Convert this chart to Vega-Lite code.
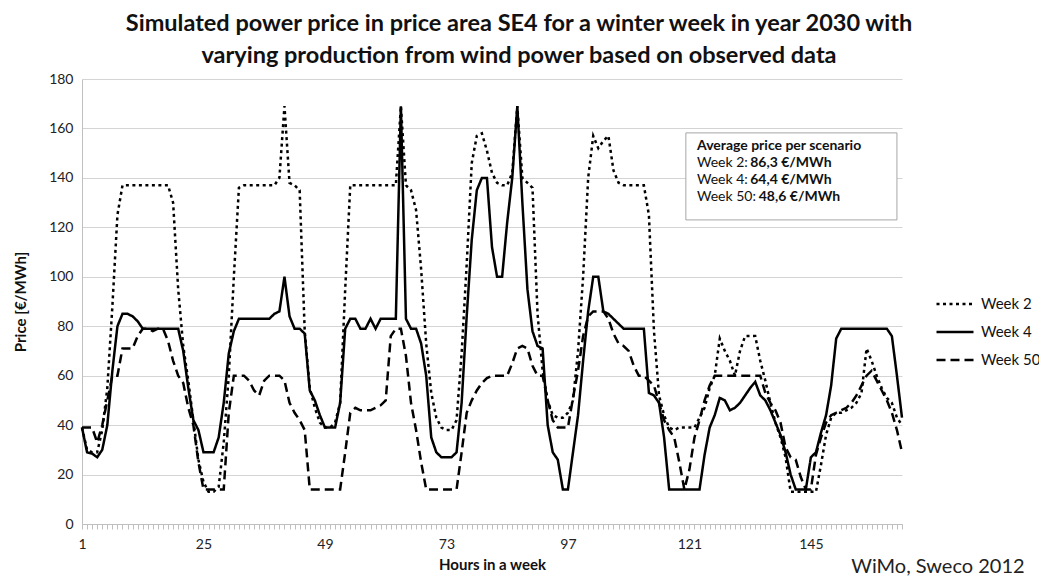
{
  "$schema": "https://vega.github.io/schema/vega-lite/v6.json",
  "width": 820,
  "height": 445,
  "autosize": {"type": "none"},
  "padding": {"left": 82, "top": 79, "right": 137, "bottom": 55},
  "background": "white",
  "config": {
    "font": "Lato",
    "view": {"stroke": null},
    "axis": {"domainColor": "#bfbfbf", "tickColor": "#bfbfbf", "labelColor": "#222222", "titleColor": "#111111", "labelFont": "Lato", "titleFont": "Lato", "labelFontSize": 14, "titleFontSize": 15, "titleFontWeight": "bold", "gridColor": "#d4d4d4"}
  },
  "title": {
    "text": ["Simulated power price in price area SE4 for a winter week in year 2030 with", "varying production from wind power based on observed data"],
    "font": "Lato", "fontSize": 23.5, "fontWeight": "bold", "color": "#111111",
    "anchor": "middle", "frame": "group", "dx": 27, "offset": 5, "lineHeight": 32
  },
  "datasets": {
    "prices": [
      {"h":1,"Week 2":39,"Week 4":39,"Week 50":39},
      {"h":2,"Week 2":30,"Week 4":29,"Week 50":39},
      {"h":3,"Week 2":29,"Week 4":28.5,"Week 50":39},
      {"h":4,"Week 2":29,"Week 4":27,"Week 50":33},
      {"h":5,"Week 2":38,"Week 4":30,"Week 50":40},
      {"h":6,"Week 2":55,"Week 4":40,"Week 50":50},
      {"h":7,"Week 2":88,"Week 4":62,"Week 50":60},
      {"h":8,"Week 2":125,"Week 4":80,"Week 50":60},
      {"h":9,"Week 2":137,"Week 4":85,"Week 50":71},
      {"h":10,"Week 2":137,"Week 4":85,"Week 50":71},
      {"h":11,"Week 2":137,"Week 4":84,"Week 50":71},
      {"h":12,"Week 2":137,"Week 4":82,"Week 50":76},
      {"h":13,"Week 2":137,"Week 4":79,"Week 50":79},
      {"h":14,"Week 2":137,"Week 4":79,"Week 50":79},
      {"h":15,"Week 2":137,"Week 4":79,"Week 50":78},
      {"h":16,"Week 2":137,"Week 4":79,"Week 50":79},
      {"h":17,"Week 2":137,"Week 4":79,"Week 50":79},
      {"h":18,"Week 2":137,"Week 4":79,"Week 50":74},
      {"h":19,"Week 2":130,"Week 4":79,"Week 50":66},
      {"h":20,"Week 2":95,"Week 4":79,"Week 50":60},
      {"h":21,"Week 2":72,"Week 4":70,"Week 50":57},
      {"h":22,"Week 2":58,"Week 4":55,"Week 50":47},
      {"h":23,"Week 2":42,"Week 4":42,"Week 50":40},
      {"h":24,"Week 2":26,"Week 4":38,"Week 50":25},
      {"h":25,"Week 2":17,"Week 4":29,"Week 50":14},
      {"h":26,"Week 2":13,"Week 4":29,"Week 50":14},
      {"h":27,"Week 2":13,"Week 4":29,"Week 50":14},
      {"h":28,"Week 2":15,"Week 4":35,"Week 50":14},
      {"h":29,"Week 2":33,"Week 4":49,"Week 50":14},
      {"h":30,"Week 2":60,"Week 4":69,"Week 50":45},
      {"h":31,"Week 2":100,"Week 4":78,"Week 50":60},
      {"h":32,"Week 2":136,"Week 4":83,"Week 50":60},
      {"h":33,"Week 2":137,"Week 4":83,"Week 50":60},
      {"h":34,"Week 2":137,"Week 4":83,"Week 50":58},
      {"h":35,"Week 2":137,"Week 4":83,"Week 50":54},
      {"h":36,"Week 2":137,"Week 4":83,"Week 50":52},
      {"h":37,"Week 2":137,"Week 4":83,"Week 50":58},
      {"h":38,"Week 2":137,"Week 4":83,"Week 50":60},
      {"h":39,"Week 2":137,"Week 4":85,"Week 50":60},
      {"h":40,"Week 2":140,"Week 4":86,"Week 50":60},
      {"h":41,"Week 2":169,"Week 4":100,"Week 50":58},
      {"h":42,"Week 2":138,"Week 4":84,"Week 50":49},
      {"h":43,"Week 2":137,"Week 4":79,"Week 50":45},
      {"h":44,"Week 2":135,"Week 4":79,"Week 50":42},
      {"h":45,"Week 2":78,"Week 4":77,"Week 50":38},
      {"h":46,"Week 2":55,"Week 4":54,"Week 50":14},
      {"h":47,"Week 2":47,"Week 4":50,"Week 50":14},
      {"h":48,"Week 2":41,"Week 4":44,"Week 50":14},
      {"h":49,"Week 2":39,"Week 4":39,"Week 50":14},
      {"h":50,"Week 2":39,"Week 4":39,"Week 50":14},
      {"h":51,"Week 2":41,"Week 4":39,"Week 50":14},
      {"h":52,"Week 2":49,"Week 4":49,"Week 50":14},
      {"h":53,"Week 2":95,"Week 4":79,"Week 50":29},
      {"h":54,"Week 2":137,"Week 4":83,"Week 50":45},
      {"h":55,"Week 2":137,"Week 4":83,"Week 50":47},
      {"h":56,"Week 2":137,"Week 4":79,"Week 50":46},
      {"h":57,"Week 2":137,"Week 4":79,"Week 50":46},
      {"h":58,"Week 2":137,"Week 4":83,"Week 50":46},
      {"h":59,"Week 2":137,"Week 4":79,"Week 50":47},
      {"h":60,"Week 2":137,"Week 4":83,"Week 50":48},
      {"h":61,"Week 2":137,"Week 4":83,"Week 50":50},
      {"h":62,"Week 2":137,"Week 4":83,"Week 50":76},
      {"h":63,"Week 2":137,"Week 4":83,"Week 50":79},
      {"h":64,"Week 2":169,"Week 4":169,"Week 50":79},
      {"h":65,"Week 2":137,"Week 4":83,"Week 50":68},
      {"h":66,"Week 2":135,"Week 4":79,"Week 50":49},
      {"h":67,"Week 2":127,"Week 4":79,"Week 50":38},
      {"h":68,"Week 2":103,"Week 4":73,"Week 50":25},
      {"h":69,"Week 2":73,"Week 4":60,"Week 50":14},
      {"h":70,"Week 2":53,"Week 4":35,"Week 50":14},
      {"h":71,"Week 2":43,"Week 4":29,"Week 50":14},
      {"h":72,"Week 2":39,"Week 4":27,"Week 50":14},
      {"h":73,"Week 2":38,"Week 4":27,"Week 50":14},
      {"h":74,"Week 2":38,"Week 4":27,"Week 50":14},
      {"h":75,"Week 2":42,"Week 4":29,"Week 50":14},
      {"h":76,"Week 2":69,"Week 4":49,"Week 50":29},
      {"h":77,"Week 2":105,"Week 4":84,"Week 50":45},
      {"h":78,"Week 2":146,"Week 4":115,"Week 50":50},
      {"h":79,"Week 2":157,"Week 4":135,"Week 50":54},
      {"h":80,"Week 2":158,"Week 4":140,"Week 50":57},
      {"h":81,"Week 2":151,"Week 4":140,"Week 50":59},
      {"h":82,"Week 2":142,"Week 4":112,"Week 50":60},
      {"h":83,"Week 2":138,"Week 4":100,"Week 50":60},
      {"h":84,"Week 2":137,"Week 4":100,"Week 50":60},
      {"h":85,"Week 2":137,"Week 4":122,"Week 50":60},
      {"h":86,"Week 2":142,"Week 4":140,"Week 50":65},
      {"h":87,"Week 2":169,"Week 4":169,"Week 50":71},
      {"h":88,"Week 2":140,"Week 4":130,"Week 50":72},
      {"h":89,"Week 2":138,"Week 4":95,"Week 50":71},
      {"h":90,"Week 2":136,"Week 4":78,"Week 50":64},
      {"h":91,"Week 2":85,"Week 4":72,"Week 50":60},
      {"h":92,"Week 2":62,"Week 4":71,"Week 50":60},
      {"h":93,"Week 2":50,"Week 4":40,"Week 50":50},
      {"h":94,"Week 2":44,"Week 4":29,"Week 50":42},
      {"h":95,"Week 2":43,"Week 4":26,"Week 50":39},
      {"h":96,"Week 2":43,"Week 4":14,"Week 50":39},
      {"h":97,"Week 2":45,"Week 4":14,"Week 50":39},
      {"h":98,"Week 2":50,"Week 4":29,"Week 50":51},
      {"h":99,"Week 2":70,"Week 4":44,"Week 50":62},
      {"h":100,"Week 2":100,"Week 4":66,"Week 50":76},
      {"h":101,"Week 2":140,"Week 4":86,"Week 50":84},
      {"h":102,"Week 2":157,"Week 4":100,"Week 50":86},
      {"h":103,"Week 2":152,"Week 4":100,"Week 50":86},
      {"h":104,"Week 2":155,"Week 4":86,"Week 50":86},
      {"h":105,"Week 2":157,"Week 4":85,"Week 50":83},
      {"h":106,"Week 2":143,"Week 4":83,"Week 50":77},
      {"h":107,"Week 2":138,"Week 4":81,"Week 50":73},
      {"h":108,"Week 2":137,"Week 4":79,"Week 50":72},
      {"h":109,"Week 2":137,"Week 4":79,"Week 50":70},
      {"h":110,"Week 2":137,"Week 4":79,"Week 50":64},
      {"h":111,"Week 2":137,"Week 4":79,"Week 50":60},
      {"h":112,"Week 2":137,"Week 4":79,"Week 50":60},
      {"h":113,"Week 2":125,"Week 4":53,"Week 50":58},
      {"h":114,"Week 2":78,"Week 4":52,"Week 50":56},
      {"h":115,"Week 2":52,"Week 4":49,"Week 50":49},
      {"h":116,"Week 2":44,"Week 4":35,"Week 50":42},
      {"h":117,"Week 2":39,"Week 4":14,"Week 50":38},
      {"h":118,"Week 2":38,"Week 4":14,"Week 50":35},
      {"h":119,"Week 2":39,"Week 4":14,"Week 50":25},
      {"h":120,"Week 2":39,"Week 4":14,"Week 50":14},
      {"h":121,"Week 2":39,"Week 4":14,"Week 50":22},
      {"h":122,"Week 2":39,"Week 4":14,"Week 50":35},
      {"h":123,"Week 2":43,"Week 4":14,"Week 50":42},
      {"h":124,"Week 2":47,"Week 4":28,"Week 50":50},
      {"h":125,"Week 2":55,"Week 4":39,"Week 50":56},
      {"h":126,"Week 2":60,"Week 4":44,"Week 50":60},
      {"h":127,"Week 2":75,"Week 4":51,"Week 50":60},
      {"h":128,"Week 2":70,"Week 4":50,"Week 50":60},
      {"h":129,"Week 2":66,"Week 4":46,"Week 50":60},
      {"h":130,"Week 2":60,"Week 4":47,"Week 50":60},
      {"h":131,"Week 2":70,"Week 4":49,"Week 50":60},
      {"h":132,"Week 2":76,"Week 4":52,"Week 50":60},
      {"h":133,"Week 2":76,"Week 4":55,"Week 50":60},
      {"h":134,"Week 2":76,"Week 4":57.5,"Week 50":60},
      {"h":135,"Week 2":66,"Week 4":52,"Week 50":60},
      {"h":136,"Week 2":58,"Week 4":50,"Week 50":53},
      {"h":137,"Week 2":49,"Week 4":46,"Week 50":49},
      {"h":138,"Week 2":41,"Week 4":41,"Week 50":46},
      {"h":139,"Week 2":35,"Week 4":36,"Week 50":41},
      {"h":140,"Week 2":27,"Week 4":29,"Week 50":31},
      {"h":141,"Week 2":13,"Week 4":20,"Week 50":27},
      {"h":142,"Week 2":13,"Week 4":14,"Week 50":26},
      {"h":143,"Week 2":13,"Week 4":14,"Week 50":19},
      {"h":144,"Week 2":13,"Week 4":14,"Week 50":14},
      {"h":145,"Week 2":13,"Week 4":27,"Week 50":14},
      {"h":146,"Week 2":13,"Week 4":29,"Week 50":28},
      {"h":147,"Week 2":24,"Week 4":37,"Week 50":35},
      {"h":148,"Week 2":36,"Week 4":44,"Week 50":41},
      {"h":149,"Week 2":43,"Week 4":56,"Week 50":44},
      {"h":150,"Week 2":45,"Week 4":75,"Week 50":45},
      {"h":151,"Week 2":45,"Week 4":79,"Week 50":46},
      {"h":152,"Week 2":46,"Week 4":79,"Week 50":47},
      {"h":153,"Week 2":47,"Week 4":79,"Week 50":49},
      {"h":154,"Week 2":49,"Week 4":79,"Week 50":52},
      {"h":155,"Week 2":53,"Week 4":79,"Week 50":56},
      {"h":156,"Week 2":71,"Week 4":79,"Week 50":60},
      {"h":157,"Week 2":66,"Week 4":79,"Week 50":62},
      {"h":158,"Week 2":60,"Week 4":79,"Week 50":58},
      {"h":159,"Week 2":55,"Week 4":79,"Week 50":54},
      {"h":160,"Week 2":51,"Week 4":79,"Week 50":50},
      {"h":161,"Week 2":49,"Week 4":76,"Week 50":45},
      {"h":162,"Week 2":43,"Week 4":60,"Week 50":38},
      {"h":163,"Week 2":40,"Week 4":43,"Week 50":29}
    ],
    "box": [{"x1": 120.3, "x2": 162, "y1": 123.0, "y2": 158.2}],
    "notes": [
      {"tx": 122.5, "ty": 152.9, "t": "Average price per scenario", "w": "b"},
      {"tx": 122.5, "ty": 145.9, "t": "Week 2:", "w": "n"},
      {"tx": 133.0, "ty": 145.9, "t": "86,3 €/MWh", "w": "b"},
      {"tx": 122.5, "ty": 139.0, "t": "Week 4:", "w": "n"},
      {"tx": 133.0, "ty": 139.0, "t": "64,4 €/MWh", "w": "b"},
      {"tx": 122.5, "ty": 132.1, "t": "Week 50:", "w": "n"},
      {"tx": 134.7, "ty": 132.1, "t": "48,6 €/MWh", "w": "b"},
      {"tx": 170.1, "ty": -17.4, "t": "WiMo, Sweco 2012", "w": "f"}
    ]
  },
  "layer": [
    {
      "data": {"name": "prices"},
      "transform": [{"fold": ["Week 2", "Week 4", "Week 50"], "as": ["series", "price"]}],
      "mark": {"type": "line", "strokeWidth": 2.5, "color": "#000000"},
      "encoding": {
        "x": {
          "field": "h", "type": "quantitative",
          "scale": {"domain": [1, 163], "nice": false, "zero": false},
          "axis": {
            "title": "Hours in a week", "tickCount": 163, "labelOverlap": false, "labelFlush": false,
            "labelExpr": "(datum.value - 1) % 24 == 0 ? datum.label : ''",
            "grid": false, "tickSize": 5, "labelPadding": 8, "titlePadding": 6
          }
        },
        "y": {
          "field": "price", "type": "quantitative",
          "scale": {"domain": [0, 180], "nice": false},
          "axis": {"title": "Price [€/MWh]", "tickCount": 9, "ticks": false, "labelPadding": 9, "titlePadding": 20, "grid": true}
        },
        "strokeDash": {
          "field": "series", "type": "nominal",
          "scale": {"domain": ["Week 2", "Week 4", "Week 50"], "range": [[3, 3.5], [1, 0], [9, 5]]},
          "legend": {
            "orient": "none", "legendX": 853, "legendY": 205, "title": null,
            "symbolType": "stroke", "symbolSize": 1369, "symbolStrokeWidth": 2.5, "symbolStrokeColor": "#000000",
            "labelFontSize": 15, "labelColor": "#111111", "labelFont": "Lato", "labelOffset": 6, "rowPadding": -10, "padding": 0
          }
        }
      }
    },
    {
      "data": {"name": "box"},
      "mark": {"type": "rect", "fill": "white", "stroke": "#a6a6a6", "strokeWidth": 1},
      "encoding": {
        "x": {"field": "x1", "type": "quantitative"},
        "x2": {"field": "x2"},
        "y": {"field": "y1", "type": "quantitative"},
        "y2": {"field": "y2"}
      }
    },
    {
      "data": {"name": "notes"},
      "transform": [{"filter": "datum.w == 'n'"}],
      "mark": {"type": "text", "align": "left", "baseline": "middle", "fontSize": 14, "color": "#111111"},
      "encoding": {
        "x": {"field": "tx", "type": "quantitative"},
        "y": {"field": "ty", "type": "quantitative"},
        "text": {"field": "t"}
      }
    },
    {
      "data": {"name": "notes"},
      "transform": [{"filter": "datum.w == 'b'"}],
      "mark": {"type": "text", "align": "left", "baseline": "middle", "fontSize": 14, "fontWeight": "bold", "color": "#111111"},
      "encoding": {
        "x": {"field": "tx", "type": "quantitative"},
        "y": {"field": "ty", "type": "quantitative"},
        "text": {"field": "t"}
      }
    },
    {
      "data": {"name": "notes"},
      "transform": [{"filter": "datum.w == 'f'"}],
      "mark": {"type": "text", "align": "center", "baseline": "middle", "fontSize": 20, "color": "#222222"},
      "encoding": {
        "x": {"field": "tx", "type": "quantitative"},
        "y": {"field": "ty", "type": "quantitative"},
        "text": {"field": "t"}
      }
    }
  ]
}
